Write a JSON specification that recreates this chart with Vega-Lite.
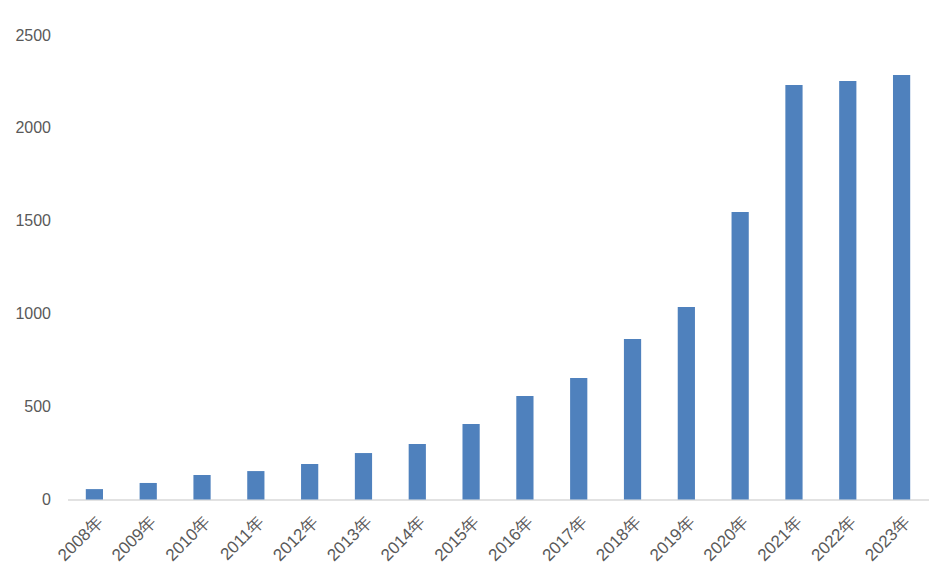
{
  "$schema": "https://vega.github.io/schema/vega-lite/v6.json",
  "autosize": "none",
  "width": 861,
  "height": 464.5,
  "padding": {"left": 67.5, "top": 35, "right": 15.5, "bottom": 75.5},
  "background": "white",
  "config": {"view": {"stroke": null}, "font": "Liberation Sans"},
  "data": {"values": [
    {"year": "2008年", "value": 56},
    {"year": "2009年", "value": 89},
    {"year": "2010年", "value": 132},
    {"year": "2011年", "value": 153},
    {"year": "2012年", "value": 191},
    {"year": "2013年", "value": 250},
    {"year": "2014年", "value": 299},
    {"year": "2015年", "value": 406},
    {"year": "2016年", "value": 557},
    {"year": "2017年", "value": 654},
    {"year": "2018年", "value": 864},
    {"year": "2019年", "value": 1036},
    {"year": "2020年", "value": 1547},
    {"year": "2021年", "value": 2231},
    {"year": "2022年", "value": 2252},
    {"year": "2023年", "value": 2285}
  ]},
  "mark": {"type": "bar", "color": "#4f81bd"},
  "encoding": {
    "x": {
      "field": "year", "type": "nominal", "sort": null,
      "scale": {"paddingInner": 0.68, "paddingOuter": 0.34},
      "axis": {
        "title": null, "labelAngle": -45, "labelFontSize": 17, "labelColor": "#595959",
        "ticks": false, "domainColor": "#d9d9d9", "domainWidth": 1.5, "labelPadding": 14, "grid": false
      }
    },
    "y": {
      "field": "value", "type": "quantitative",
      "scale": {"domain": [0, 2500], "nice": false},
      "axis": {
        "title": null, "values": [0, 500, 1000, 1500, 2000, 2500], "format": "d", "grid": false,
        "domain": false, "ticks": false, "labelFontSize": 16, "labelColor": "#595959", "labelPadding": 17
      }
    }
  }
}
